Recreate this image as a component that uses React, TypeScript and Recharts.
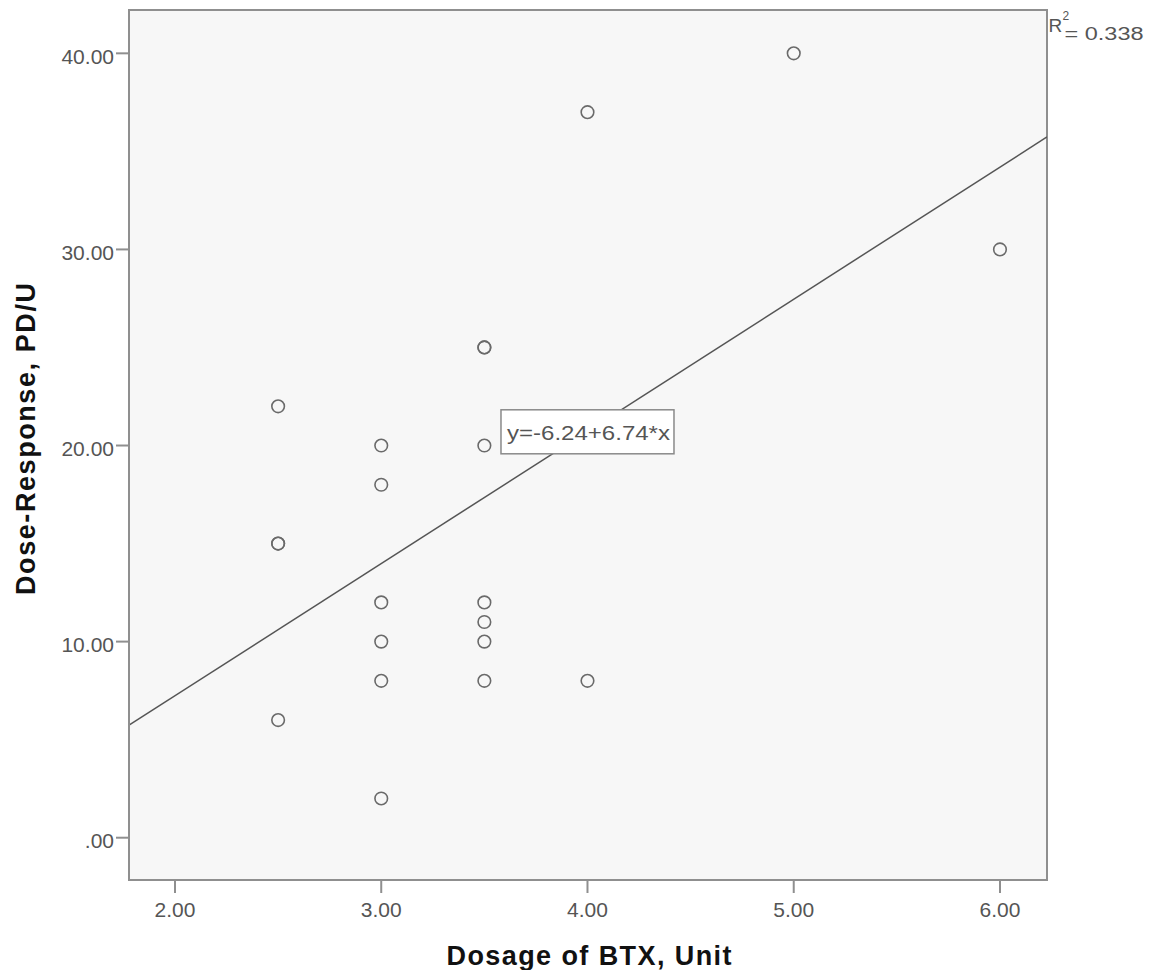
import React from 'react';
import {
  ScatterChart,
  Scatter,
  XAxis,
  YAxis,
  ReferenceLine,
  ReferenceArea,
  ReferenceDot,
  Label,
} from 'recharts';

// ---- data ----
const dosage = [2.5, 2.5, 2.5, 2.5, 3, 3, 3, 3, 3, 3, 3.5, 3.5, 3.5, 3.5, 3.5, 3.5, 3.5, 4, 4, 5, 6];
const response = [22, 15, 15, 6, 20, 18, 12, 10, 8, 2, 25, 25, 20, 12, 11, 10, 8, 37, 8, 40, 30];
const xTicks = [2, 3, 4, 5, 6];
const yTicks = [0, 10, 20, 30, 40];
const xDomain = [1.777, 6.228];
const yDomain = [-2.157, 42.21];
const intercept = -6.24;
const slope = 6.74;
const rSquared = 0.338;
const equationAnchor = { x: 4.0, y: 20.7 };
const xTitle = 'Dosage of BTX, Unit';
const yTitle = 'Dose-Response, PD/U';

const points = dosage.map((x, i) => ({ x, y: response[i] }));
const fitSegment = [
  { x: xDomain[0], y: intercept + slope * xDomain[0] },
  { x: xDomain[1], y: intercept + slope * xDomain[1] },
];

const FONT = '"Liberation Sans", Arial, sans-serif';
const TICK_COLOR = '#555';
const FRAME = '#8f8f8f';

const fmtY = (v: number) => (v === 0 ? '.00' : v.toFixed(2));
const fmtX = (v: number) => v.toFixed(2);

const CircleShape = (props: any) => (
  <circle cx={props.cx} cy={props.cy} r={6.3} fill="none" stroke="#6a6a6a" strokeWidth={1.6} />
);

const EquationShape = (props: any) => {
  const { cx, cy } = props;
  const w = 173;
  const h = 44;
  const text = `y=${intercept.toFixed(2)}+${slope.toFixed(2)}*x`;
  return (
    <g>
      <rect x={cx - w / 2} y={cy - h / 2} width={w} height={h} fill="#ffffff" stroke="#8a8a8a" strokeWidth={1.5} />
      <text
        x={cx - w / 2 + 6}
        y={cy + 8}
        fill={TICK_COLOR}
        fontSize={21}
        fontFamily={FONT}
        textLength={163}
        lengthAdjust="spacingAndGlyphs"
      >
        {text}
      </text>
    </g>
  );
};

const RSquaredLabel = (props: any) => {
  const vb = props.viewBox || { x: 0, y: 0, width: 0, height: 0 };
  const x0 = vb.x + vb.width + 1.5;
  const y0 = vb.y;
  return (
    <g fontFamily={FONT} fill={TICK_COLOR}>
      <text x={x0} y={y0 + 22} fontSize={19}>R</text>
      <text x={x0 + 14} y={y0 + 10} fontSize={12}>2</text>
      <text x={x0 + 16} y={y0 + 30} fontSize={18} textLength={79} lengthAdjust="spacingAndGlyphs">
        {`= ${rSquared.toFixed(3)}`}
      </text>
    </g>
  );
};

const XTitle = (props: any) => {
  const vb = props.viewBox || { x: 0, y: 0, width: 0, height: 0 };
  return (
    <text
      x={vb.x + vb.width / 2 + 1}
      y={vb.y + 85}
      textAnchor="middle"
      fontSize={27}
      fontWeight="bold"
      fontFamily={FONT}
      fill="#111"
      textLength={285}
      lengthAdjust="spacing"
    >
      {xTitle}
    </text>
  );
};

const YTitle = (props: any) => {
  const vb = props.viewBox || { x: 0, y: 0, width: 0, height: 0 };
  const cx = 35;
  const cy = vb.y + vb.height / 2 - 6;
  return (
    <text
      x={cx}
      y={cy}
      transform={`rotate(-90, ${cx}, ${cy})`}
      textAnchor="middle"
      fontSize={27}
      fontWeight="bold"
      fontFamily={FONT}
      fill="#111"
      textLength={312}
      lengthAdjust="spacing"
    >
      {yTitle}
    </text>
  );
};

export default function App() {
  return (
    <div style={{ position: 'absolute', left: 0, top: 0, background: '#fff' }}>
      <ScatterChart width={1151} height={970} margin={{ top: 10, right: 104, bottom: 0, left: 0 }}>
        <XAxis
          type="number"
          dataKey="x"
          domain={xDomain}
          ticks={xTicks}
          tickFormatter={fmtX}
          allowDataOverflow
          height={90}
          tickSize={13}
          tickMargin={9}
          axisLine={{ stroke: FRAME, strokeWidth: 2 }}
          tickLine={{ stroke: FRAME, strokeWidth: 2 }}
          tick={{ fill: TICK_COLOR, fontSize: 21, fontFamily: FONT }}
        >
          <Label content={<XTitle />} />
        </XAxis>
        <YAxis
          type="number"
          dataKey="y"
          domain={yDomain}
          ticks={yTicks}
          tickFormatter={fmtY}
          allowDataOverflow
          width={129}
          tickSize={13}
          tickMargin={2}
          axisLine={{ stroke: FRAME, strokeWidth: 2 }}
          tickLine={{ stroke: FRAME, strokeWidth: 2 }}
          tick={{ fill: TICK_COLOR, fontSize: 21, fontFamily: FONT, dy: 3 }}
        >
          <Label content={<YTitle />} />
        </YAxis>
        <ReferenceArea
          x1={xDomain[0]}
          x2={xDomain[1]}
          y1={yDomain[0]}
          y2={yDomain[1]}
          fill="#f7f7f7"
          fillOpacity={1}
          stroke={FRAME}
          strokeWidth={2}
          ifOverflow="visible"
        >
          <Label content={<RSquaredLabel />} />
        </ReferenceArea>
        <ReferenceLine segment={fitSegment} stroke="#555" strokeWidth={1.5} ifOverflow="hidden" />
        <Scatter data={points} shape={<CircleShape />} isAnimationActive={false} />
        <ReferenceDot
          x={equationAnchor.x}
          y={equationAnchor.y}
          r={1}
          shape={<EquationShape />}
          ifOverflow="visible"
        />
      </ScatterChart>
    </div>
  );
}
